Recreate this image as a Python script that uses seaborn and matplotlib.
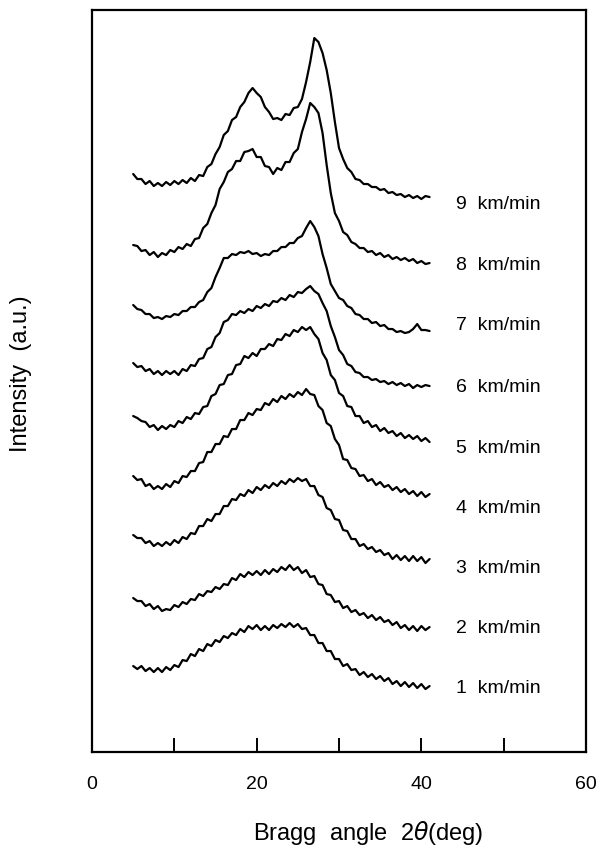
import numpy as np
import pandas as pd
import matplotlib
matplotlib.use("Agg")
import matplotlib.pyplot as plt
import seaborn as sns

# Bragg angle grid (deg)
two_theta = np.arange(5.0, 41.5, 0.5)

# Stacked diffraction traces (a.u.), one per take-up speed
trace_9 = [578, 573, 573, 568, 571, 566, 569, 566, 570, 567,
           571, 568, 572, 569, 574, 571, 577, 576, 585, 588,
           598, 605, 617, 621, 632, 635, 645, 650, 659, 664,
           659, 655, 645, 640, 633, 634, 632, 638, 637, 644,
           645, 653, 670, 690, 714, 710, 699, 682, 659, 630,
           604, 593, 584, 580, 573, 572, 568, 568, 565, 565,
           562, 563, 559, 560, 557, 558, 555, 557, 554, 556,
           553, 556, 555]
trace_8 = [507, 506, 501, 502, 497, 500, 495, 499, 497, 502,
           500, 505, 503, 508, 506, 513, 514, 524, 528, 539,
           547, 563, 570, 580, 583, 591, 591, 600, 601, 603,
           595, 595, 586, 585, 578, 584, 582, 590, 590, 599,
           603, 620, 633, 649, 645, 639, 619, 587, 559, 539,
           531, 520, 517, 510, 508, 504, 504, 500, 501, 497,
           499, 495, 497, 493, 495, 492, 494, 491, 493, 489,
           491, 488, 489]
trace_7 = [447, 443, 442, 438, 438, 434, 435, 433, 436, 435,
           438, 437, 441, 441, 445, 445, 450, 452, 460, 464,
           475, 484, 494, 494, 498, 497, 500, 499, 501, 498,
           499, 496, 498, 497, 501, 501, 505, 505, 509, 509,
           514, 516, 524, 531, 525, 516, 498, 484, 468, 461,
           454, 452, 446, 444, 438, 437, 433, 433, 429, 430,
           426, 427, 423, 423, 420, 421, 419, 420, 423, 428,
           422, 422, 421]
trace_6 = [389, 385, 386, 381, 383, 378, 381, 377, 381, 378,
           381, 377, 383, 381, 387, 386, 393, 394, 403, 405,
           415, 419, 430, 432, 438, 437, 441, 439, 443, 441,
           446, 444, 448, 446, 451, 450, 454, 452, 457, 455,
           460, 459, 463, 466, 461, 458, 449, 441, 426, 415,
           402, 397, 388, 386, 380, 379, 375, 375, 372, 373,
           370, 371, 368, 370, 367, 369, 366, 368, 364, 367,
           365, 367, 366]
trace_5 = [336, 334, 331, 330, 325, 327, 322, 326, 323, 327,
           325, 331, 329, 335, 333, 339, 338, 345, 346, 356,
           358, 367, 368, 377, 378, 387, 388, 396, 394, 399,
           396, 403, 403, 408, 406, 413, 412, 418, 416, 422,
           420, 425, 422, 425, 418, 413, 399, 392, 377, 372,
           359, 356, 346, 345, 336, 336, 329, 331, 325, 327,
           321, 324, 319, 321, 316, 319, 314, 317, 313, 316,
           311, 314, 310]
trace_4 = [276, 272, 273, 266, 268, 263, 266, 263, 268, 265,
           271, 269, 276, 275, 281, 281, 289, 290, 300, 300,
           308, 308, 316, 315, 323, 323, 332, 332, 339, 337,
           343, 342, 349, 347, 353, 350, 356, 353, 358, 355,
           360, 357, 363, 358, 357, 346, 342, 329, 326, 313,
           307, 293, 292, 284, 283, 276, 277, 271, 273, 267,
           270, 265, 267, 262, 265, 260, 263, 258, 261, 256,
           260, 255, 258]
trace_3 = [217, 214, 214, 209, 211, 206, 209, 206, 210, 207,
           212, 209, 215, 213, 219, 218, 226, 226, 233, 231,
           238, 238, 246, 246, 253, 252, 258, 256, 262, 259,
           265, 262, 267, 264, 269, 266, 271, 268, 273, 270,
           274, 271, 273, 266, 266, 257, 255, 244, 242, 233,
           232, 222, 221, 213, 213, 206, 208, 203, 205, 200,
           202, 197, 199, 193, 197, 192, 196, 191, 196, 191,
           195, 189, 193]
trace_2 = [154, 151, 151, 146, 148, 143, 146, 141, 143, 142,
           147, 145, 150, 148, 153, 152, 158, 156, 161, 160,
           165, 163, 168, 167, 174, 172, 178, 175, 180, 177,
           181, 177, 182, 178, 183, 180, 185, 182, 187, 182,
           185, 179, 182, 175, 176, 168, 167, 158, 157, 150,
           151, 144, 146, 140, 142, 137, 139, 134, 137, 132,
           135, 130, 132, 127, 130, 124, 127, 122, 126, 121,
           126, 122, 125]
trace_1 = [86, 83, 86, 81, 84, 80, 84, 80, 85, 82,
           87, 85, 92, 91, 98, 96, 103, 101, 108, 106,
           112, 110, 116, 114, 119, 117, 123, 120, 126, 123,
           127, 122, 126, 122, 127, 124, 128, 125, 129, 125,
           128, 123, 124, 117, 117, 109, 109, 101, 101, 93,
           93, 86, 88, 82, 83, 77, 80, 75, 78, 73,
           76, 71, 74, 68, 71, 66, 70, 65, 69, 64,
           68, 63, 66]

speeds = [1, 2, 3, 4, 5, 6, 7, 8, 9]
traces = [trace_1, trace_2, trace_3, trace_4, trace_5,
          trace_6, trace_7, trace_8, trace_9]
# vertical position of each speed label (a.u.)
label_y = [64, 124, 184, 244, 304, 365, 427, 487, 548]
speed_labels = [f"{s}  km/min" for s in speeds]

x_ticks = [0, 10, 20, 30, 40, 50, 60]
x_tick_labels = ["0", "", "20", "", "40", "", "60"]

df = pd.concat(
    [pd.DataFrame({"two_theta": two_theta, "intensity": tr, "speed": s})
     for s, tr in zip(speeds, traces)],
    ignore_index=True,
)

sns.set_style("white")
plt.rcParams["font.family"] = ["Liberation Sans", "DejaVu Sans"]
plt.rcParams["text.color"] = "black"
plt.rcParams["axes.labelcolor"] = "black"
plt.rcParams["xtick.color"] = "black"

fig = plt.figure(figsize=(6.16, 8.49), dpi=100)
ax = fig.add_axes([0.1494, 0.1142, 0.8019, 0.874])

sns.lineplot(data=df, x="two_theta", y="intensity", units="speed",
             estimator=None, color="black", linewidth=1.6, ax=ax)

for txt, yv in zip(speed_labels, label_y):
    ax.text(44.2, yv, txt, fontsize=14, va="center", ha="left",
            color="black")

ax.set_xlim(0, 60)
ax.set_ylim(0, 742)
ax.set_xticks(x_ticks)
ax.set_xticklabels(x_tick_labels, fontsize=14)
ax.set_yticks([])
ax.tick_params(axis="x", direction="in", length=10, width=1.4,
               pad=17, bottom=True, top=False, colors="black")
for sp in ax.spines.values():
    sp.set_visible(True)
    sp.set_color("black")
    sp.set_linewidth(1.6)

ax.set_xlabel(r"Bragg  angle  2$\theta$(deg)", fontsize=17,
              color="black")
ax.xaxis.set_label_coords(0.559, -0.0905)
ax.set_ylabel("Intensity  (a.u.)", fontsize=17, color="black")
ax.yaxis.set_label_coords(-0.122, 0.51)

fig.savefig("out.png", dpi=100, facecolor="white")
